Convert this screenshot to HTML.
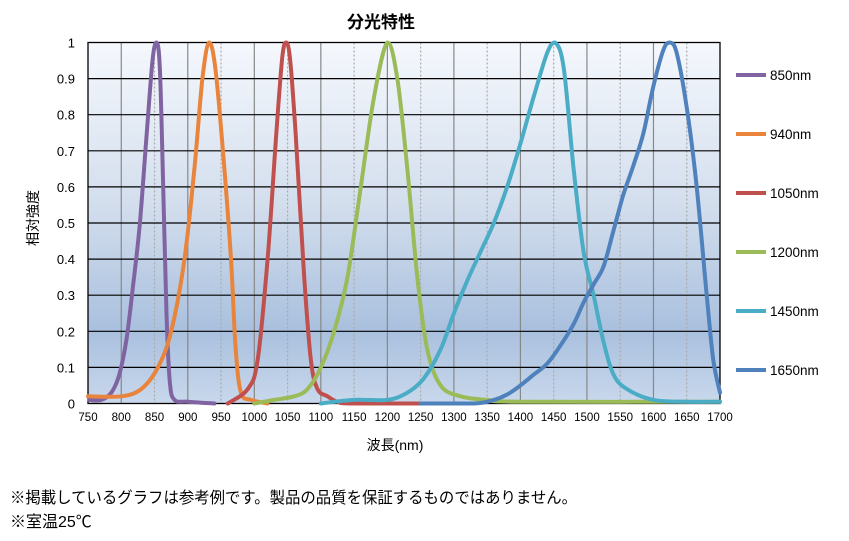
<!DOCTYPE html>
<html><head><meta charset="utf-8"><style>
html,body{margin:0;padding:0;background:#fff;}
svg{display:block;font-family:"Liberation Sans","Noto Sans CJK JP",sans-serif;}
</style></head><body>
<svg id="s" width="849" height="541" viewBox="0 0 849 541" xmlns="http://www.w3.org/2000/svg">
<defs>
<linearGradient id="bg" x1="0" y1="0" x2="0" y2="1">
<stop offset="0" stop-color="#f5f8fd"/>
<stop offset="0.45" stop-color="#d3deed"/>
<stop offset="0.8" stop-color="#a9c0de"/>
<stop offset="1" stop-color="#c9d8ec"/>
</linearGradient>
</defs>
<rect x="88" y="42.5" width="632" height="361" fill="url(#bg)"/>
<g id="grid"></g>
<rect x="88" y="42.5" width="632" height="361" fill="none" stroke="#000" stroke-width="1.3"/>
<g id="curves" fill="none" stroke-width="4" stroke-linejoin="round" stroke-linecap="round"></g>
<g id="labels" font-size="12" fill="#000"></g>
<text x="381" y="28" font-size="17" font-weight="bold" text-anchor="middle">分光特性</text>
<text transform="translate(38,218) rotate(-90)" font-size="14" text-anchor="middle">相対強度</text>
<text x="395" y="450" font-size="14" text-anchor="middle">波長(nm)</text>
<g id="legend" font-size="13.5"></g>
<text x="10" y="503" font-size="16" textLength="567" lengthAdjust="spacingAndGlyphs">※掲載しているグラフは参考例です。製品の品質を保証するものではありません。</text>
<text x="10" y="527" font-size="16">※室温25℃</text>
</svg>
<script>
var NS="http://www.w3.org/2000/svg";
function X(n){return 88+(n-750)*632/950;}
function Y(v){return 403.5-v*361;}
function el(p,t,a,txt){var e=document.createElementNS(NS,t);for(var k in a)e.setAttribute(k,a[k]);if(txt!=null)e.textContent=txt;document.getElementById(p).appendChild(e);}
for(var n=800;n<1700;n+=50){var x=X(n);
 if(n%100==0)el("grid","line",{x1:x,x2:x,y1:42.5,y2:403.5,stroke:"#888","stroke-width":1.2});
 else el("grid","line",{x1:x,x2:x,y1:42.5,y2:403.5,stroke:"#aaa","stroke-width":1.2,"stroke-dasharray":"2,2"});}
for(var i=1;i<10;i++){el("grid","line",{x1:88,x2:720,y1:Y(i/10),y2:Y(i/10),stroke:"#000","stroke-width":1.2});}
for(var i=0;i<=10;i++){var t=i==0?"0":i==10?"1":(i/10).toFixed(1);el("labels","text",{x:75,y:Y(i/10)+5,"text-anchor":"end","font-size":13},t);}
for(var n=750;n<=1700;n+=50){el("labels","text",{x:X(n),y:421,"text-anchor":"middle","font-size":11.5},""+n);}
var D=[
["#8064a2",[[752,0.01],[770,0.01],[785,0.03],[797,0.08],[808,0.18],[818,0.33],[828,0.5],[838,0.74],[847,0.95],[853,1],[858,0.93],[863,0.6],[868,0.25],[873,0.06],[880,0.01],[900,0.005],[940,0]]],
["#e8843c",[[750,0.02],[800,0.02],[830,0.04],[855,0.1],[875,0.2],[895,0.4],[910,0.65],[922,0.9],[932,1],[942,0.92],[955,0.65],[965,0.4],[972,0.15],[980,0.03],[995,0.01],[1020,0]]],
["#c0504d",[[960,0],[990,0.04],[1005,0.12],[1020,0.4],[1032,0.72],[1042,0.96],[1048,1],[1054,0.95],[1062,0.75],[1075,0.35],[1085,0.12],[1095,0.04],[1110,0.02],[1125,0.005],[1150,0],[1300,0]]],
["#9bbb59",[[1000,0],[1030,0.01],[1060,0.02],[1080,0.04],[1100,0.1],[1120,0.2],[1140,0.35],[1160,0.6],[1180,0.85],[1200,1],[1215,0.9],[1230,0.65],[1245,0.35],[1260,0.15],[1280,0.05],[1310,0.02],[1350,0.01],[1400,0.005],[1700,0.005]]],
["#4bacc6",[[1100,0],[1150,0.01],[1200,0.01],[1230,0.03],[1255,0.07],[1280,0.15],[1300,0.25],[1320,0.34],[1340,0.42],[1360,0.5],[1380,0.6],[1400,0.72],[1420,0.85],[1440,0.97],[1452,1],[1465,0.93],[1480,0.65],[1495,0.42],[1510,0.3],[1525,0.17],[1540,0.08],[1560,0.04],[1600,0.01],[1650,0.005],[1700,0.005]]],
["#4f81bd",[[1250,0],[1330,0],[1360,0.01],[1380,0.025],[1400,0.05],[1420,0.08],[1440,0.11],[1460,0.16],[1480,0.22],[1495,0.28],[1510,0.33],[1525,0.38],[1540,0.48],[1555,0.58],[1570,0.66],[1585,0.75],[1600,0.88],[1615,0.98],[1625,1],[1635,0.97],[1650,0.82],[1665,0.6],[1680,0.3],[1690,0.12],[1700,0.03]]]
];
function path(pts){var P=pts.map(function(p){return [X(p[0]),Y(p[1])];});var d="M"+P[0][0].toFixed(1)+","+P[0][1].toFixed(1);
 for(var i=0;i<P.length-1;i++){var p0=P[i-1]||P[i],p1=P[i],p2=P[i+1],p3=P[i+2]||p2;
  var c1=[p1[0]+(p2[0]-p0[0])/6,p1[1]+(p2[1]-p0[1])/6],c2=[p2[0]-(p3[0]-p1[0])/6,p2[1]-(p3[1]-p1[1])/6];
  c1[1]=Math.min(Math.max(c1[1],42.5),403.5);c2[1]=Math.min(Math.max(c2[1],42.5),403.5);
  d+="C"+c1[0].toFixed(1)+","+c1[1].toFixed(1)+" "+c2[0].toFixed(1)+","+c2[1].toFixed(1)+" "+p2[0].toFixed(1)+","+p2[1].toFixed(1);}
 return d;}
D.forEach(function(s){el("curves","path",{d:path(s[1]),stroke:s[0]});});
var L=["850nm","940nm","1050nm","1200nm","1450nm","1650nm"],LY=[75,134,193,252,311,370];
L.forEach(function(t,i){el("legend","line",{x1:736,x2:766,y1:LY[i],y2:LY[i],stroke:D[i][0],"stroke-width":4});
 el("legend","text",{x:770,y:LY[i]+5},t);});
</script>
</body></html>
